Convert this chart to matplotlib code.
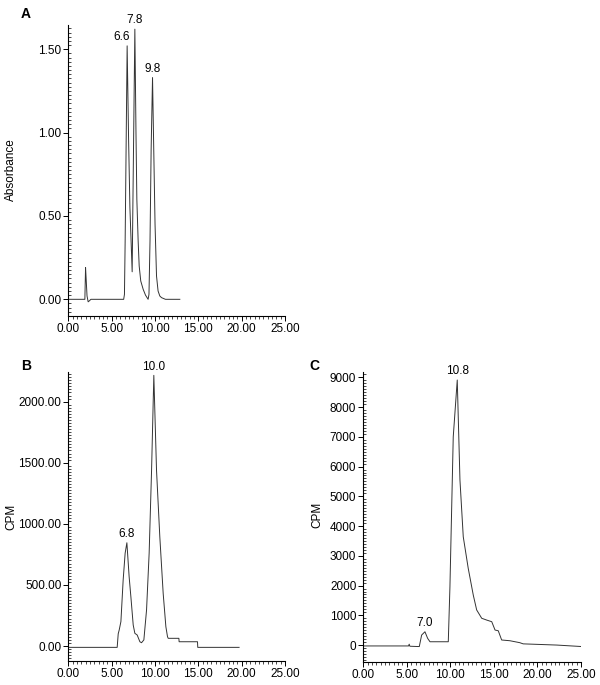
import matplotlib
matplotlib.use('Agg')
from matplotlib import pyplot as plt
from matplotlib.ticker import MultipleLocator, FormatStrFormatter

plt.rcParams['font.family'] = ['Liberation Sans', 'DejaVu Sans']

# Panel A: absorbance trace (time in min, absorbance)
a_time = [0, 1.9, 1.98, 2.05, 2.15, 2.28, 2.4, 2.6, 3.5, 6.38, 6.47, 6.55, 6.78, 6.95, 7.1,
          7.36, 7.45, 7.67, 7.8, 7.9, 8.05, 8.17, 8.35, 8.63, 8.9, 9.2, 9.3, 9.42, 9.55,
          9.71, 9.85, 10.0, 10.17, 10.35, 10.55, 10.75, 11.2, 12.86]
a_abs = [0, 0, 0.19, 0.12, 0.02, -0.015, -0.01, 0, 0, 0, 0.03, 0.35, 1.52, 0.95, 0.55,
         0.165, 0.6, 1.62, 1.0, 0.6, 0.35, 0.2, 0.11, 0.06, 0.025, 0.0, 0.03, 0.35, 0.9,
         1.33, 0.9, 0.45, 0.14, 0.05, 0.02, 0.01, 0.0, 0.0]
a_peaks = [(6.78, 1.52, '6.6'), (7.67, 1.62, '7.8'), (9.71, 1.33, '9.8')]

# Panel B: radioactivity (CPM)
b_time = [0, 5.63, 5.75, 5.86, 6.06, 6.32, 6.55, 6.75, 7.01, 7.21, 7.48, 7.67, 7.94,
          8.25, 8.44, 8.71, 9.02, 9.32, 9.6, 9.86, 10.17, 10.55, 10.94, 11.25, 11.44,
          11.52, 12.75, 12.78, 14.9, 14.93, 19.7]
b_cpm = [-11, -11, 100, 130, 200, 540, 760, 845, 567, 404, 172, 104, 90,
         35, 27, 50, 295, 760, 1440, 2215, 1440, 895, 430, 158, 76,
         63, 63, 35, 35, -11, -11]
b_peaks = [(6.75, 845, '6.8'), (9.86, 2215, '10.0')]

# Panel C: radioactivity (CPM)
c_time = [0, 5.2, 5.27, 5.35, 6.3, 6.43, 6.7, 7.08, 7.39, 7.66, 7.85, 9.76, 9.95,
          10.33, 10.79, 11.1, 11.48, 12.05, 12.63, 13.02, 13.6, 14.17, 14.75, 15.13,
          15.5, 15.89, 16.84, 17.97, 18.36, 22.2, 25.07]
c_cpm = [-30, -30, 30, -40, -50, -50, 336, 447, 225, 111, 111, 111, 1960,
         7000, 8910, 5550, 3640, 2580, 1680, 1180, 900, 840, 785, 505,
         480, 170, 145, 80, 40, 0, -50]
c_peaks = [(7.08, 447, '7.0'), (10.79, 8910, '10.8')]

fs = 8.5
fig = plt.figure(figsize=(6, 6.85), dpi=100)
ax_a = fig.add_axes([0.114, 0.5387, 0.361, 0.4248])
ax_b = fig.add_axes([0.114, 0.0355, 0.361, 0.4219])
ax_c = fig.add_axes([0.6055, 0.034, 0.3628, 0.4234])

panels = [
    (ax_a, a_time, a_abs, a_peaks, (-0.1, 1.645), 0.5, 0.025, '%.2f', 'Absorbance', 'A'),
    (ax_b, b_time, b_cpm, b_peaks, (-120, 2245), 500, 25, '%.2f', 'CPM', 'B'),
    (ax_c, c_time, c_cpm, c_peaks, (-560, 9190), 1000, 100, '%d', 'CPM', 'C'),
]

for ax, x, y, peaks, ylim, major, minor, yfmt, ylabel, letter in panels:
    ax.plot(x, y, color='#333333', lw=0.7)
    for px, py, lab in peaks:
        dx = -4 if lab == '6.6' else 0
        ax.annotate(lab, (px, py), xytext=(dx, 2), textcoords='offset points',
                    ha='center', va='bottom', fontsize=fs)
    ax.set_xlim(0, 25)
    ax.set_ylim(*ylim)
    ax.xaxis.set_major_locator(MultipleLocator(5))
    ax.xaxis.set_minor_locator(MultipleLocator(0.5))
    ax.xaxis.set_major_formatter(FormatStrFormatter('%.2f'))
    ax.yaxis.set_major_locator(MultipleLocator(major))
    ax.yaxis.set_minor_locator(MultipleLocator(minor))
    ax.yaxis.set_major_formatter(FormatStrFormatter(yfmt))
    for s in ['top', 'right']:
        ax.spines[s].set_visible(False)
    for s in ['left', 'bottom']:
        ax.spines[s].set_linewidth(0.8)
    ax.tick_params(which='major', length=3.5, width=0.7, labelsize=fs, pad=1.5)
    ax.tick_params(axis='x', which='minor', direction='out', length=2, width=0.5)
    ax.tick_params(axis='y', which='minor', direction='in', length=2, width=0.5)
    ax.set_ylabel(ylabel, fontsize=fs)

ax_a.yaxis.set_label_coords(11 / 600, 1 - 170 / 685, transform=fig.transFigure)
ax_b.yaxis.set_label_coords(11 / 600, 1 - 517 / 685, transform=fig.transFigure)
ax_c.yaxis.set_label_coords(317 / 600, 1 - 515 / 685, transform=fig.transFigure)
for ax in (ax_a, ax_b, ax_c):
    ax.yaxis.label.set_va('center')

fig.text(26 / 600, 1 - 14 / 685, 'A', fontsize=10, fontweight='bold', ha='center', va='center')
fig.text(26 / 600, 1 - 366 / 685, 'B', fontsize=10, fontweight='bold', ha='center', va='center')
fig.text(314 / 600, 1 - 366 / 685, 'C', fontsize=10, fontweight='bold', ha='center', va='center')

fig.savefig('out.png', dpi=100)
